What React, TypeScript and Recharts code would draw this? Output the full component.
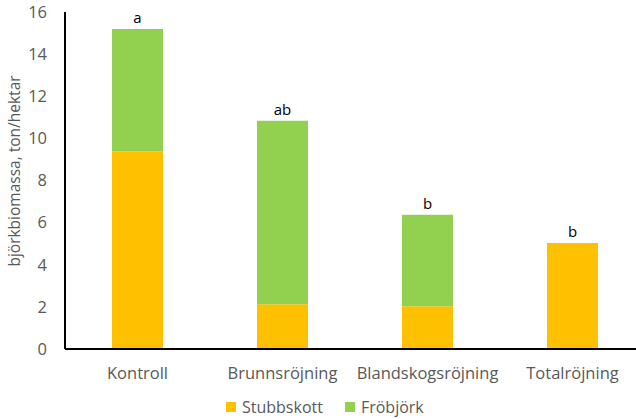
import React from 'react';
import { ComposedChart, Bar, Line, XAxis, YAxis, Legend, LabelList } from 'recharts';

const categories = ['Kontroll', 'Brunnsröjning', 'Blandskogsröjning', 'Totalröjning'];
const stubbskott = [9.38, 2.13, 2.03, 5.03];
const frobjork = [5.81, 8.71, 4.34, 0];
const letters = ['a', 'ab', 'b', 'b'];
const yTicks = [0, 2, 4, 6, 8, 10, 12, 14, 16];

const series = [
  { key: 'stubbskott', label: 'Stubbskott', color: '#FFC000' },
  { key: 'frobjork', label: 'Fröbjörk', color: '#92D050' },
];

const data = categories.map((name, i) => ({
  name,
  stubbskott: stubbskott[i],
  frobjork: frobjork[i],
  total: stubbskott[i] + frobjork[i],
  letter: letters[i],
}));

const FONT = '"Open Sans", sans-serif';

function LegendContent() {
  return (
    <div style={{ display: 'flex', gap: 22, fontFamily: FONT, fontSize: 16, color: '#595959' }}>
      {series.map((s) => (
        <div key={s.key} style={{ display: 'flex', alignItems: 'center' }}>
          <span style={{ width: 10, height: 10, background: s.color, marginRight: 6, display: 'inline-block' }} />
          {s.label}
        </div>
      ))}
    </div>
  );
}

export default function App() {
  return (
    <div style={{ position: 'absolute', left: 0, top: 0, width: 636, height: 419, overflow: 'hidden', background: '#fff' }}>
      <ComposedChart
        width={660}
        height={419}
        data={data}
        margin={{ top: 12, right: 15, left: 0, bottom: 0 }}
      >
        <XAxis
          dataKey="name"
          height={70}
          tickSize={0}
          tickMargin={18}
          axisLine={{ stroke: '#000', strokeWidth: 2 }}
          tick={{ fontSize: 16.5, fill: '#595959', fontFamily: FONT }}
        />
        <YAxis
          width={65}
          domain={[0, 16]}
          ticks={yTicks}
          tickSize={0}
          tickMargin={18}
          axisLine={{ stroke: '#000', strokeWidth: 2 }}
          tick={{ fontSize: 16.5, fill: '#595959', fontFamily: FONT }}
          label={{
            content: () => (
              <text
                x={14}
                y={171}
                transform="rotate(-90 14 171)"
                textAnchor="middle"
                dominantBaseline="central"
                fontSize={15.5}
                fill="#595959"
                fontFamily={FONT}
              >
                björkbiomassa, ton/hektar
              </text>
            ),
          }}
        />
        <Legend
          verticalAlign="middle"
          layout="horizontal"
          content={() => <LegendContent />}
          wrapperStyle={{ left: 226, top: 396, width: 'auto' }}
        />
        <Bar dataKey="stubbskott" stackId="a" fill="#FFC000" barSize={51} isAnimationActive={false} />
        <Bar dataKey="frobjork" stackId="a" fill="#92D050" barSize={51} isAnimationActive={false} />
        <Line
          dataKey="total"
          stroke="none"
          dot={false}
          activeDot={false}
          legendType="none"
          isAnimationActive={false}
        >
          <LabelList
            dataKey="letter"
            position="top"
            offset={6}
            fill="#000"
            fontSize={15}
            fontFamily={FONT}
          />
        </Line>
      </ComposedChart>
    </div>
  );
}
